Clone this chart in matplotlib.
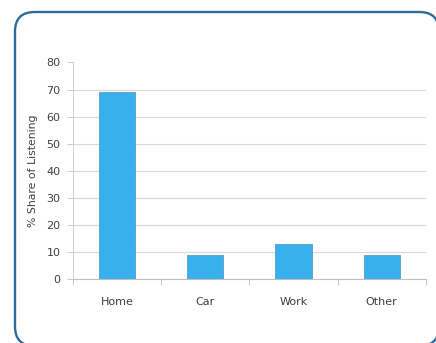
import matplotlib
matplotlib.use('Agg')
import matplotlib.pyplot as plt
from matplotlib.patches import FancyBboxPatch

categories = ['Home', 'Car', 'Work', 'Other']
share = [69, 9, 13, 9]
yticks = [0, 10, 20, 30, 40, 50, 60, 70, 80]

W, H = 436, 343
fig = plt.figure(figsize=(W / 100, H / 100), dpi=100)

# rounded frame, runs off the right and bottom edges
frame = FancyBboxPatch((15 / W, -3 / H), 424 / W, (H - 12 + 3) / H,
                       boxstyle='round,pad=0,rounding_size=0.045',
                       transform=fig.transFigure, facecolor='white',
                       edgecolor='#2f6b9a', linewidth=1.7,
                       mutation_aspect=W / H, zorder=-5)
fig.patches.append(frame)

ax = fig.add_axes([73 / W, 63.7 / H, 352.7 / W, 216.8 / H])
ax.set_facecolor('none')
x = list(range(len(categories)))
ax.bar(x, share, width=0.41, color='#38b0ee', edgecolor='#5a9cc4',
       linewidth=0.6, zorder=3)

ax.set_xlim(-0.5, 3.5)
ax.set_ylim(0, 80)
ax.set_yticks(yticks)
ax.set_xticks(x)
ax.set_xticklabels(categories)
ax.set_xticks([-0.5, 0.5, 1.5, 2.5, 3.5], minor=True)
ax.tick_params(axis='x', which='major', length=0, pad=13,
               labelsize=8, labelcolor='#404040')
ax.tick_params(axis='x', which='minor', length=4, color='#c8c8c8', width=0.7)
ax.tick_params(axis='y', length=4, color='#c8c8c8', width=0.7,
               labelsize=8, labelcolor='#404040', pad=5)

for v in yticks[1:-1]:
    ax.axhline(v, color='#d9d9d9', linewidth=0.8, zorder=1)

for s in ['top', 'right']:
    ax.spines[s].set_visible(False)
ax.spines['left'].set_color('#d0d0d0')
ax.spines['bottom'].set_color('#c0c0c0')
ax.spines['left'].set_linewidth(0.7)
ax.spines['bottom'].set_linewidth(0.8)

ax.set_ylabel('% Share of Listening', fontsize=7.8, color='#404040', labelpad=6)

fig.savefig('out.png', dpi=100)
